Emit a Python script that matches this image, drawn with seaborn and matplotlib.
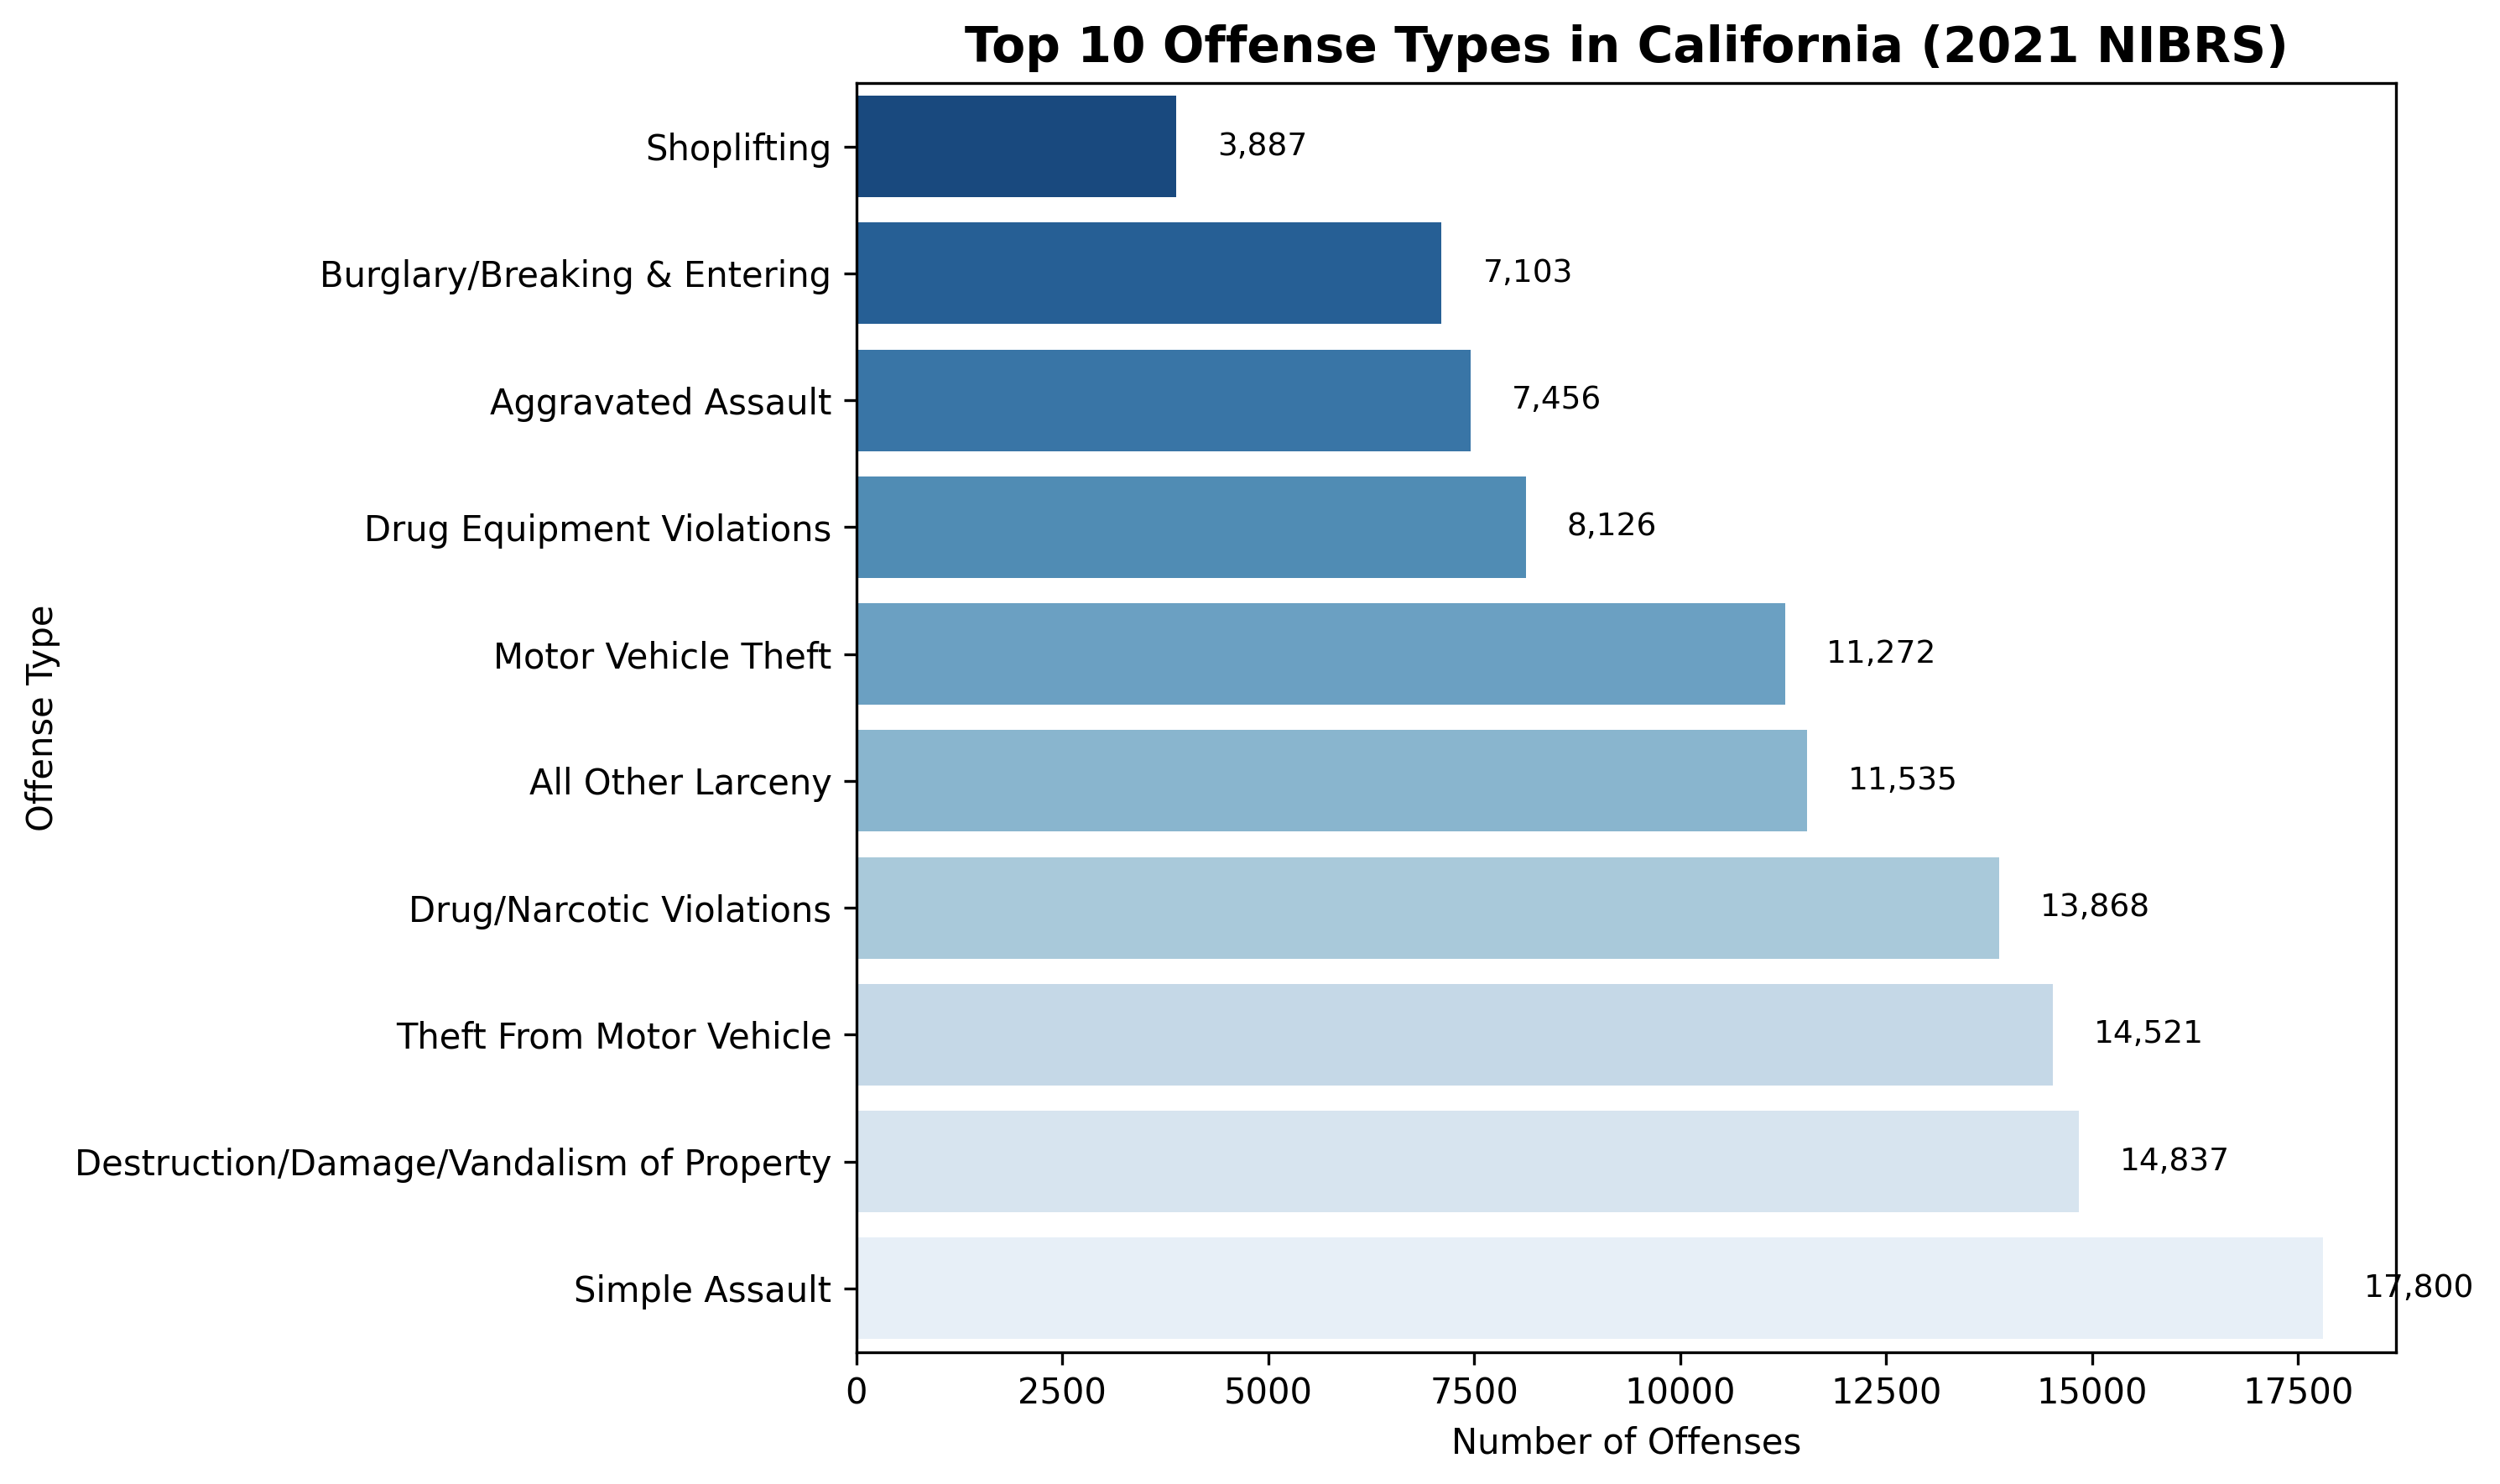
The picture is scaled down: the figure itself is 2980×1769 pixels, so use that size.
import matplotlib
matplotlib.use("Agg")
import matplotlib.pyplot as plt
import pandas as pd
import seaborn as sns

# Data
offenses = [
    "Shoplifting",
    "Burglary/Breaking & Entering",
    "Aggravated Assault",
    "Drug Equipment Violations",
    "Motor Vehicle Theft",
    "All Other Larceny",
    "Drug/Narcotic Violations",
    "Theft From Motor Vehicle",
    "Destruction/Damage/Vandalism of Property",
    "Simple Assault",
]
counts = [3887, 7103, 7456, 8126, 11272, 11535, 13868, 14521, 14837, 17800]

df = pd.DataFrame({"Offense Type": offenses, "Number of Offenses": counts})

fig = plt.figure(figsize=(2980 / 300, 1769 / 300), dpi=300)
ax = fig.add_subplot()

sns.barplot(data=df, x="Number of Offenses", y="Offense Type", hue="Offense Type",
            palette="Blues_r", legend=False, ax=ax)

# value labels next to each bar
for i, v in enumerate(counts):
    ax.text(v + 500, i, f"{v:,}", va="center", ha="left", fontsize=9)

ax.set_title("Top 10 Offense Types in California (2021 NIBRS)", fontsize=14, fontweight="bold")
ax.set_xlabel("Number of Offenses")
ax.set_ylabel("Offense Type")

plt.subplots_adjust(left=0.3425, right=0.9585, top=0.944, bottom=0.089)
fig.savefig("out.png", dpi=300)
